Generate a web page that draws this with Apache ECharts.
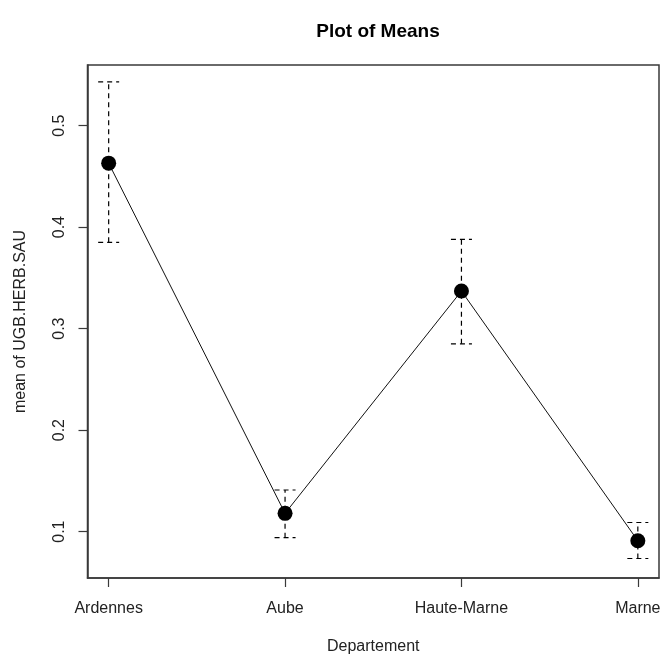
<!DOCTYPE html>
<html>
<head>
<meta charset="utf-8">
<script src="https://cdn.jsdelivr.net/npm/echarts@6/dist/echarts.min.js"></script>
<style>
html,body{margin:0;padding:0;background:#fff;}
#chart{width:662px;height:655px;}
</style>
</head>
<body>
<div id="chart"></div>
<script>
const categories = ['Ardennes', 'Aube', 'Haute-Marne', 'Marne'];
const means = [0.463, 0.118, 0.337, 0.091];
const upper = [0.543, 0.141, 0.388, 0.109];
const lower = [0.385, 0.094, 0.285, 0.0735];
const yTicks = [0.1, 0.2, 0.3, 0.4, 0.5];
const xTicks = [1, 2, 3, 4];

const font = 'Liberation Sans, Arial, sans-serif';
const axisColor = '#3a3a3a';

const chart = echarts.init(document.getElementById('chart'), null, {renderer: 'canvas'});

const lineData = categories.map((c, i) => [i + 1, means[i]]);
const errData = categories.map((c, i) => [i + 1, lower[i], upper[i]]);

const option = {
  backgroundColor: '#fff',
  animation: false,
  title: {
    text: 'Plot of Means',
    left: 373,
    top: 17,
    textAlign: 'center',
    textStyle: {fontFamily: font, fontWeight: 'bold', fontSize: 19, color: '#000'}
  },
  grid: {
    left: 87.5, right: 3, top: 65, bottom: 77,
    show: true, borderColor: axisColor, borderWidth: 1.5, backgroundColor: 'transparent',
    containLabel: false, outerBoundsMode: 'none'
  },
  xAxis: {
    type: 'value',
    min: 0.88, max: 4.12,
    name: 'Departement',
    nameLocation: 'middle',
    nameGap: 61,
    nameTextStyle: {fontFamily: font, fontSize: 16, color: '#222'},
    axisLine: {show: true, onZero: false, lineStyle: {color: axisColor, width: 1.5}},
    axisTick: {show: true, length: 9, inside: false, customValues: xTicks, lineStyle: {color: axisColor, width: 1.2}},
    axisLabel: {
      show: true, margin: 23, customValues: xTicks,
      fontFamily: font, fontSize: 16, color: '#222',
      formatter: v => categories[Math.round(v) - 1] || ''
    },
    splitLine: {show: false}
  },
  yAxis: {
    type: 'value',
    min: 0.0543, max: 0.5597,
    name: 'mean of UGB.HERB.SAU',
    nameLocation: 'middle',
    nameRotate: 90,
    nameGap: 59,
    nameTextStyle: {fontFamily: font, fontSize: 16, color: '#222'},
    axisLine: {show: true, onZero: false, lineStyle: {color: axisColor, width: 1.5}},
    axisTick: {show: true, length: 9, inside: false, customValues: yTicks, lineStyle: {color: axisColor, width: 1.2}},
    axisLabel: {
      show: true, margin: 20, rotate: 90, customValues: yTicks,
      fontFamily: font, fontSize: 16, color: '#222',
      align: 'center', verticalAlign: 'bottom',
      formatter: v => String(Math.round(v * 10) / 10)
    },
    splitLine: {show: false}
  },
  series: [
    {
      type: 'custom',
      z: 2,
      data: errData,
      renderItem: function (params, api) {
        const x = api.value(0), lo = api.value(1), hi = api.value(2);
        const pLo = api.coord([x, lo]);
        const pHi = api.coord([x, hi]);
        const hw = 10.5;
        const style = {stroke: '#000', lineWidth: 1.2, lineDash: [5, 4], fill: null};
        return {
          type: 'group',
          children: [
            {type: 'line', shape: {x1: pLo[0], y1: pLo[1], x2: pHi[0], y2: pHi[1]}, style: style},
            {type: 'line', shape: {x1: pHi[0] - hw, y1: pHi[1], x2: pHi[0] + hw, y2: pHi[1]}, style: style},
            {type: 'line', shape: {x1: pLo[0] - hw, y1: pLo[1], x2: pLo[0] + hw, y2: pLo[1]}, style: style}
          ]
        };
      }
    },
    {
      type: 'line',
      z: 3,
      data: lineData,
      symbol: 'circle',
      symbolSize: 15,
      itemStyle: {color: '#000'},
      lineStyle: {color: '#111', width: 1},
      emphasis: {disabled: true}
    }
  ]
};

chart.setOption(option);
</script>
</body>
</html>
